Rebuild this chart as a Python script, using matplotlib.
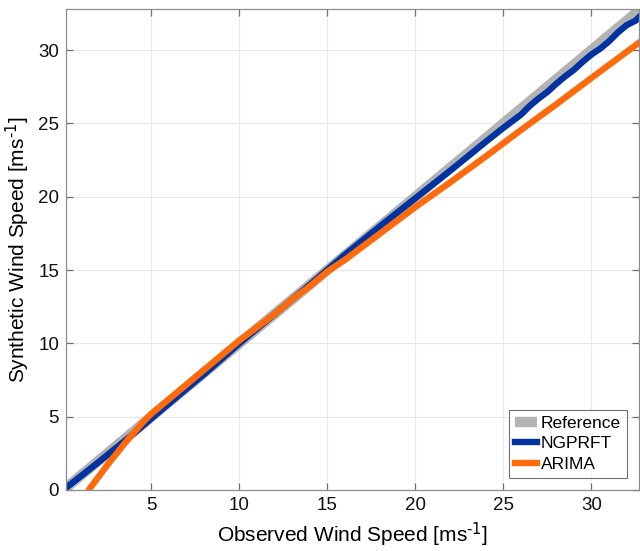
import numpy as np
import matplotlib
matplotlib.use("Agg")
import matplotlib.pyplot as plt

plt.rcParams['font.family'] = ['Liberation Sans', 'DejaVu Sans']
plt.rcParams['mathtext.default'] = 'regular'

# reference line (perfect agreement)
ref_x = [0.0, 34.0]
ref_y = [0.0, 34.0]

# NGPRFT quantiles
ngprft_x = [0.1, 2, 4, 6, 8, 10, 12, 14, 16, 18, 20, 22, 24, 25, 26, 26.5, 27, 27.5,
            28, 28.5, 29, 29.5, 30, 30.5, 31, 31.5, 32, 32.5, 33]
ngprft_y = [0.1, 1.9, 3.85, 5.9, 7.9, 10.0, 12.0, 14.0, 16.05, 18.0, 19.9, 21.8, 23.75,
            24.7, 25.6, 26.2, 26.7, 27.15, 27.7, 28.2, 28.65, 29.2, 29.7, 30.1, 30.6,
            31.2, 31.7, 32.0, 32.6]

# ARIMA quantiles
arima_x = [1.5, 2.5, 3.5, 4.5, 5, 6, 7, 8, 9, 10, 11, 12, 13, 14, 15, 16, 17, 18, 19,
           20, 22, 24, 26, 28, 30, 32.7]
arima_y = [0.1, 1.7, 3.2, 4.6, 5.2, 6.2, 7.2, 8.2, 9.2, 10.2, 11.1, 12.0, 13.0, 13.9,
           14.9, 15.7, 16.6, 17.5, 18.4, 19.3, 21.0, 22.75, 24.55, 26.3, 28.1, 30.5]

fig = plt.figure(figsize=(6.4, 5.51), dpi=100)
ax = fig.add_axes([66 / 640, 61 / 551, 573 / 640, 481 / 551])

ax.plot(ref_x, ref_y, color='#b3b3b3', lw=7.5, solid_capstyle='butt', label='Reference')
ax.plot(ngprft_x, ngprft_y, color='#0033a0', lw=4.6, label='NGPRFT')
ax.plot(arima_x, arima_y, color='#ff6a0d', lw=4.6, label='ARIMA')

ax.set_xlim(0.15, 32.7)
ax.set_ylim(0, 32.8)
ax.set_xticks([5, 10, 15, 20, 25, 30])
ax.set_yticks([0, 5, 10, 15, 20, 25, 30])

ax.grid(True, color='#e8e8e8', lw=0.8)
ax.set_axisbelow(True)
for s in ax.spines.values():
    s.set_color('#8c8c8c')
    s.set_linewidth(0.9)
ax.tick_params(direction='in', top=True, right=True, length=5, width=0.9,
               color='#6e6e6e', labelsize=13.5, labelcolor='#111111', pad=5)

ax.set_xlabel(r'Observed Wind Speed [ms$^{\text{-1}}$]', fontsize=15, labelpad=5)
ax.set_ylabel(r'Synthetic Wind Speed [ms$^{\text{-1}}$]', fontsize=15, labelpad=4)

leg = ax.legend(loc='lower right', fontsize=12.5, frameon=True, fancybox=False,
                edgecolor='#4d4d4d', handlelength=1.3, handletextpad=0.2,
                borderpad=0.35, labelspacing=0.3, borderaxespad=0.7)
leg.get_frame().set_linewidth(0.8)

fig.savefig('out.png', dpi=100)
